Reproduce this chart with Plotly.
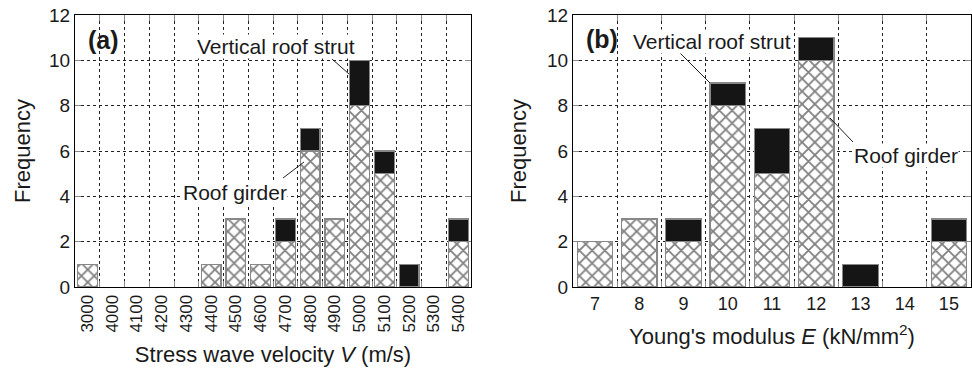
import plotly.graph_objects as go
from plotly.subplots import make_subplots

# ---- data ----
velocity_cats = ["3000", "4000", "4100", "4200", "4300", "4400", "4500", "4600",
                 "4700", "4800", "4900", "5000", "5100", "5200", "5300", "5400"]
velocity_girder = [1, 0, 0, 0, 0, 1, 3, 1, 2, 6, 3, 8, 5, 0, 0, 2]
velocity_strut = [0, 0, 0, 0, 0, 0, 0, 0, 1, 1, 0, 2, 1, 1, 0, 1]

modulus_cats = ["7", "8", "9", "10", "11", "12", "13", "14", "15"]
modulus_girder = [2, 3, 2, 8, 5, 10, 0, 0, 2]
modulus_strut = [0, 0, 1, 1, 2, 1, 1, 0, 1]

y_ticks = [0, 2, 4, 6, 8, 10, 12]

# ---- layout geometry (pixels) ----
W, H = 972, 379
ML, MR, MT, MB = 75, 1, 15, 92
PW, PH = W - ML - MR, H - MT - MB


def P(x, y):
    return (x - ML) / PW, (H - MB - y) / PH


def nz(vals):
    # zero-count bins draw nothing
    return [v if v else None for v in vals]


FONT = "Liberation Sans, Arial, sans-serif"
TXT = "#1a1a1a"

fig = make_subplots(rows=1, cols=2, horizontal_spacing=0.1)
fig.update_layout(barmode="stack")

hatch = dict(shape="x", fgcolor="#000000", bgcolor="white", size=9, solidity=0.35)

for col, cats, girder, strut in [(1, velocity_cats, velocity_girder, velocity_strut),
                                 (2, modulus_cats, modulus_girder, modulus_strut)]:
    fig.add_trace(go.Bar(x=cats, y=nz(girder), width=0.8, name="Roof girder",
                         marker=dict(color="white", pattern=hatch,
                                     line=dict(color="#888888", width=1.2)),
                         showlegend=False), row=1, col=col)
    fig.add_trace(go.Bar(x=cats, y=nz(strut), width=0.8, name="Vertical roof strut",
                         marker=dict(color="#151515",
                                     line=dict(color="#888888", width=1.2)),
                         showlegend=False), row=1, col=col)

dx_a = [0, (471 - ML) / PW]
dx_b = [(573 - ML) / PW, 1.0]

common_x = dict(type="category", tickson="boundaries", showgrid=True, griddash="dot",
                gridcolor="#222222", gridwidth=1, ticks="inside", ticklen=6,
                tickcolor="#888888", showline=True, linecolor="black", linewidth=1,
                mirror="ticks", tickfont=dict(family=FONT, size=18, color=TXT),
                title_font=dict(family=FONT, size=22, color=TXT))
common_y = dict(range=[0, 12], tickvals=y_ticks, showgrid=True, griddash="dot",
                gridcolor="#222222", gridwidth=1, ticks="inside", ticklen=6,
                tickcolor="#888888", showline=True, linecolor="black", linewidth=1,
                mirror="ticks", zeroline=False,
                tickfont=dict(family=FONT, size=19, color=TXT),
                title_font=dict(family=FONT, size=22, color=TXT))

fig.update_xaxes(common_x, row=1, col=1)
fig.update_xaxes(common_x, row=1, col=2)
fig.update_yaxes(common_y, row=1, col=1)
fig.update_yaxes(common_y, row=1, col=2)

fig.update_layout(
    xaxis=dict(domain=dx_a, range=[-0.5, 15.5], tickangle=-90,
               tickfont=dict(size=17),
               title=dict(text="Stress wave velocity <i>V</i> (m/s)", standoff=14)),
    xaxis2=dict(domain=dx_b, range=[-0.5, 8.5], tickangle=0,
                title=dict(text="Young's modulus <i>E</i> (kN/mm<sup>2</sup>)", standoff=16)),
    yaxis=dict(title=dict(text="Frequency", standoff=12)),
    yaxis2=dict(title=dict(text="Frequency", standoff=14)),
    width=W, height=H,
    margin=dict(l=ML, r=MR, t=MT, b=MB),
    paper_bgcolor="white", plot_bgcolor="white",
    font=dict(family=FONT, color=TXT),
)

anns = [
    ("<b>(a)</b>", 103, 40, 25, False),
    ("<b>(b)</b>", 602, 39, 25, False),
    ("Vertical roof strut", 276, 46, 21, True),
    ("Vertical roof strut", 712, 41, 21, True),
    ("Roof girder", 235, 192, 21, True),
    ("Roof girder", 906, 155, 21, True),
]
for text, x, y, size, bg in anns:
    px, py = P(x, y)
    kw = dict(bgcolor="white") if bg else {}
    fig.add_annotation(text=text, x=px, y=py, xref="paper", yref="paper",
                       showarrow=False, xanchor="center", yanchor="middle",
                       font=dict(family=FONT, size=size, color=TXT),
                       borderpad=0, **kw)

leaders = [((332, 59), (349, 74)), ((283, 178), (304, 162)),
           ((680, 53), (710, 83)), ((830, 118), (853, 142))]
for (x0, y0), (x1, y1) in leaders:
    a0, b0 = P(x0, y0)
    a1, b1 = P(x1, y1)
    fig.add_shape(type="line", xref="paper", yref="paper", x0=a0, y0=b0, x1=a1, y1=b1,
                  line=dict(color="#222222", width=1))

fig.write_html("out.html")
